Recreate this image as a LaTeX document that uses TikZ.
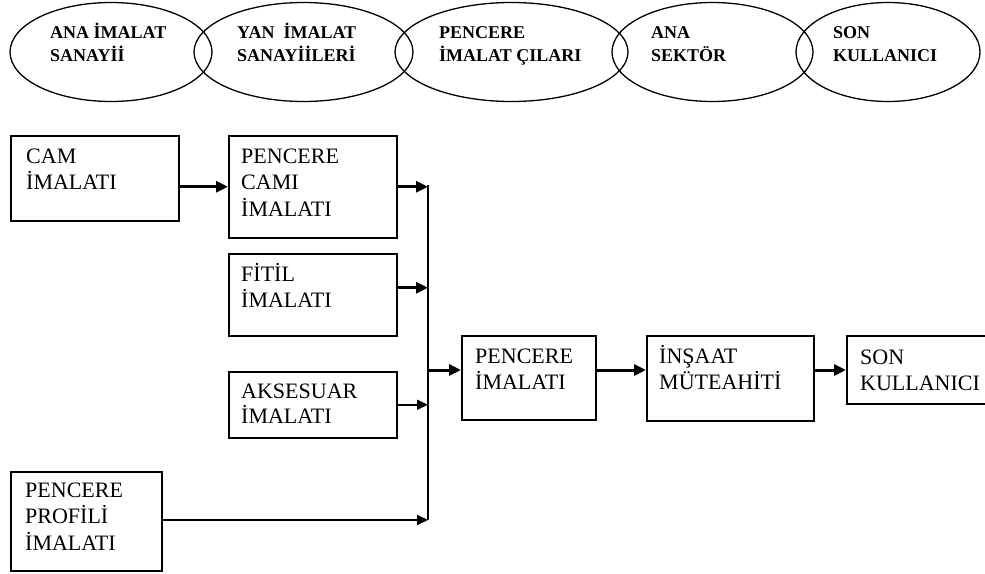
\documentclass[tikz,border=0pt]{standalone}
\usepackage{fontspec}
\setmainfont{Liberation Serif}
\usetikzlibrary{arrows.meta,shapes.geometric,calc}
\newcommand{\lines}[1]{\begin{tabular}[t]{@{}l@{}}#1\end{tabular}}
\begin{document}
\begin{tikzpicture}[x=1pt,y=-1pt,
  oval/.style={draw,ellipse,line width=1.3pt,inner sep=0pt,minimum height=99pt},
  stage/.style={draw,rectangle,line width=1.5pt,inner sep=0pt,anchor=north west},
  ovaltext/.style={anchor=base west,inner sep=0pt,font=\fontsize{18}{23}\selectfont\bfseries},
  boxtext/.style={anchor=base west,inner sep=0pt,font=\fontsize{22}{26.5}\selectfont},
  flow/.style={line width=3pt,-{Triangle[length=12pt,width=11pt]}},
  thinflow/.style={line width=1.6pt,-{Triangle[length=11pt,width=10pt]}},
  bus/.style={line width=1.6pt}
]
\useasboundingbox (0,0) rectangle (985,573);

% sector ovals along the top
\node[oval,minimum width=202pt] (e1) at (111,52) {};
\node[oval,minimum width=219pt] (e2) at (303.5,52) {};
\node[oval,minimum width=233pt] (e3) at (511.5,52) {};
\node[oval,minimum width=201pt] (e4) at (712.5,52) {};
\node[oval,minimum width=184pt] (e5) at (888,52) {};

\node[ovaltext] (t1) at (50,38) {\lines{ANA İMALAT\\SANAYİİ}};
\node[ovaltext] (t2) at (237,38) {\lines{YAN\ \ İMALAT\\SANAYİİLERİ}};
\node[ovaltext] (t3) at (439,38) {\lines{PENCERE\\İMALAT ÇILARI}};
\node[ovaltext] (t4) at (651,38) {\lines{ANA\\SEKTÖR}};
\node[ovaltext] (t5) at (833,38) {\lines{SON\\KULLANICI}};

% production stages
\node[stage,minimum width=168pt,minimum height=85pt] (cam) at (10,135) {};
\node[stage,minimum width=168pt,minimum height=102pt] (pcam) at (228,135) {};
\node[stage,minimum width=168pt,minimum height=82pt] (fitil) at (228,253) {};
\node[stage,minimum width=168pt,minimum height=66pt] (aks) at (228,371) {};
\node[stage,minimum width=151pt,minimum height=99pt] (prof) at (10,471) {};
\node[stage,minimum width=134pt,minimum height=84pt] (pim) at (461,335) {};
\node[stage,minimum width=167pt,minimum height=85pt] (ins) at (646,335) {};
\node[stage,minimum width=150pt,minimum height=68pt] (son) at (846,335) {};

\node[boxtext] (camt) at (26,163) {\lines{CAM\\İMALATI}};
\node[boxtext] (pcamt) at (241,163) {\lines{PENCERE\\CAMI\\İMALATI}};
\node[boxtext] (fitilt) at (241,281) {\lines{FİTİL\\İMALATI}};
\node[boxtext,font=\fontsize{22}{24.5}\selectfont] (akst) at (241,398) {\lines{AKSESUAR\\İMALATI}};
\node[boxtext] (proft) at (25,497) {\lines{PENCERE\\PROFİLİ\\İMALATI}};
\node[boxtext] (pimt) at (475,363) {\lines{PENCERE\\İMALATI}};
\node[boxtext] (inst) at (659,363) {\lines{İNŞAAT\\MÜTEAHİTİ}};
\node[boxtext] (sont) at (860,364) {\lines{SON\\KULLANICI}};

% collecting bus and main flow line
\coordinate (bustop) at (428,185);
\coordinate (busbot) at (428,520);
\coordinate (main) at (428,370);
\draw[bus] (bustop) -- (busbot);

\draw[flow] (cam.east |- pcam.west) -- (pcam.west);
\draw[flow] (pcam.east) -- (pcam.east -| bustop);
\draw[flow] ([yshift=7pt]fitil.east) -- ([yshift=7pt]fitil.east -| bustop);
\draw[thinflow] (aks.east) -- (aks.east -| bustop);
\draw[thinflow] (prof.east |- busbot) -- (busbot);

\draw[flow] (main) -- (pim.west |- main);
\draw[flow] (pim.east |- main) -- (ins.west |- main);
\draw[flow] (ins.east |- main) -- (son.west |- main);
\end{tikzpicture}
\end{document}
